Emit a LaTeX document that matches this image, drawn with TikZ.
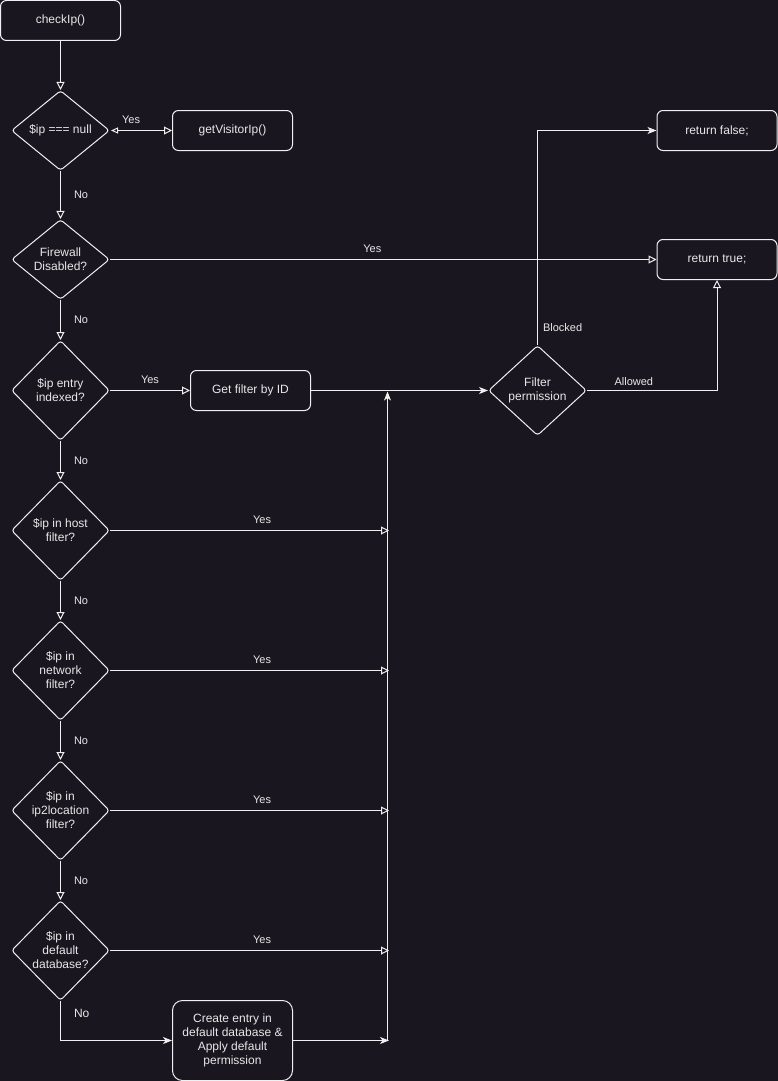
\documentclass[tikz,border=0pt]{standalone}
\usepackage{fontspec}
\setmainfont{Liberation Sans}
\usetikzlibrary{shapes.geometric,arrows.meta}
\definecolor{bg}{RGB}{25,22,31}
\definecolor{ln}{RGB}{240,240,240}
\definecolor{tx}{RGB}{232,232,232}
\begin{document}
\begin{tikzpicture}[x=1pt,y=-1pt,
  font=\fontsize{12}{14}\selectfont, text=tx,
  box/.style={draw=ln, fill=bg, line width=1pt, rounded corners=6pt, minimum width=120pt, minimum height=40pt, inner sep=0pt, align=center},
  dec/.style={draw=ln, fill=bg, line width=1pt, diamond, rounded corners=3pt, minimum width=98pt, minimum height=#1, inner sep=0pt},
  dec/.default=100pt,
  lbl/.style={font=\fontsize{11}{13}\selectfont, inner sep=0pt, text=tx},
  conn/.style={draw=ln, line width=1pt},
  oa/.style={-{Triangle[open,length=8pt,width=8pt]}},
  fa/.style={-{Stealth[length=9pt,width=7pt,inset=2.5pt]}}]
\fill[bg] (0,0) rectangle (778,1081);
\useasboundingbox (0,0) rectangle (778,1081);

% nodes
\node[box] (ci) at (60.5,20.5) {checkIp()};
\node[dec=80pt, label={[align=center]center:{\$ip === null}}] (d1) at (60.5,130.5) {};
\node[box] (gv) at (232.5,130.5) {getVisitorIp()};
\node[dec=80pt, label={[align=center]center:{Firewall\\Disabled?}}] (d2) at (60.5,259.5) {};
\node[box] (rf) at (717,130.5) {return false;};
\node[box] (rt) at (717,259.5) {return true;};
\node[dec, label={[align=center]center:{\$ip entry\\indexed?}}] (d3) at (60.5,390.5) {};
\node[box] (gf) at (250.5,390.5) {Get filter by ID};
\node[dec=90pt, label={[align=center]center:{Filter\\permission}}] (fp) at (537.5,390.5) {};
\node[dec, label={[align=center]center:{\$ip in host\\filter?}}] (d4) at (60.5,530.5) {};
\node[dec, label={[align=center]center:{\$ip in\\network\\filter?}}] (d5) at (60.5,670.5) {};
\node[dec, label={[align=center]center:{\$ip in\\ip2location\\filter?}}] (d6) at (60.5,810.5) {};
\node[dec, label={[align=center]center:{\$ip in\\default\\database?}}] (d7) at (60.5,950.5) {};
\node[box, minimum height=80pt, rounded corners=10pt] (ce) at (232.5,1040.5) {Create entry in\\default database \&\\Apply default\\permission};

\coordinate (j4) at (389,530.5);
\coordinate (j5) at (389,670.5);
\coordinate (j6) at (389,810.5);
\coordinate (j7) at (389,950.5);
\coordinate (jb) at (389,1040.5);
\coordinate (jv) at (387.5,1040.5);
\coordinate (jt) at (387.5,391.5);

% connectors
\draw[conn,oa] (ci) -- (d1);
\draw[conn,{Triangle[open,length=7pt,width=6pt]}-{Triangle[open,length=8pt,width=8pt]}]
  (d1.east) ++(1,0) -- node[lbl,pos=0.33,above=6pt]{Yes} (gv.west);
\draw[conn,oa] (d1) -- node[lbl,right=13pt]{No} (d2);
\draw[conn,oa] (d2) -- node[lbl,pos=0.48,above=6pt]{Yes} (rt);
\draw[conn,oa] (d2) -- node[lbl,right=13pt]{No} (d3);
\draw[conn,oa] (d3) -- node[lbl,above=6pt]{Yes} (gf);
\draw[conn,fa] (gf) -- (fp);
\draw[conn,fa] (fp.north) |- node[lbl,pos=0.04,right=5pt]{Blocked} (rf.west);
\draw[conn,oa] (fp.east) -| node[lbl,pos=0.18,above=4pt]{Allowed} (rt.south);
\draw[conn,oa] (d3) -- node[lbl,right=13pt]{No} (d4);
\draw[conn,oa] (d4) -- node[lbl,right=13pt]{No} (d5);
\draw[conn,oa] (d5) -- node[lbl,right=13pt]{No} (d6);
\draw[conn,oa] (d6) -- node[lbl,right=13pt]{No} (d7);
\draw[conn,oa] (d4) -- node[lbl,pos=0.545,above=6pt]{Yes} (j4);
\draw[conn,oa] (d5) -- node[lbl,pos=0.545,above=6pt]{Yes} (j5);
\draw[conn,oa] (d6) -- node[lbl,pos=0.545,above=6pt]{Yes} (j6);
\draw[conn,oa] (d7) -- node[lbl,pos=0.545,above=6pt]{Yes} (j7);
\draw[conn,fa] (d7.south) |- node[lbl,font=\fontsize{12}{14}\selectfont,pos=0.16,right=13pt]{No} (ce.west);
\draw[conn,fa] (ce) -- (jb);
\draw[conn,fa] (jv) -- (jt);
\end{tikzpicture}
\end{document}
